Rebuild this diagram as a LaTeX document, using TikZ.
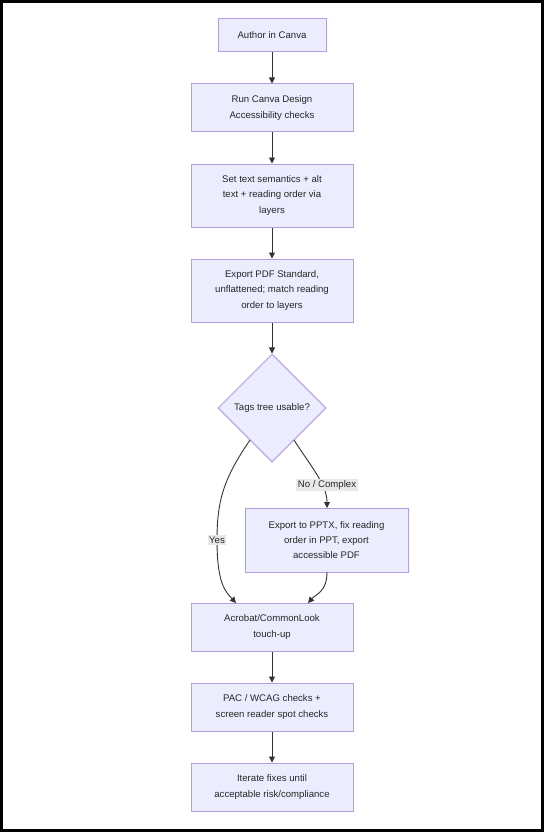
\documentclass[tikz,border=0pt]{standalone}
\usepackage{fontspec}
\setmainfont{Liberation Sans}
\usetikzlibrary{shapes.geometric,arrows.meta}
\definecolor{nodefill}{HTML}{ECECFF}
\definecolor{nodeline}{HTML}{B39DE8}
\definecolor{edgecol}{HTML}{333333}
\definecolor{lblfill}{HTML}{E8E8E8}
\begin{document}
\begin{tikzpicture}[x=1pt,y=-1pt,
  txt/.style={font=\fontsize{9.6}{15.3}\selectfont, text=black!85, align=center},
  box/.style={txt, draw=nodeline, fill=nodefill, line width=1pt, inner sep=0pt},
  dia/.style={txt, draw=nodeline, fill=nodefill, line width=1pt, diamond, inner sep=0pt, minimum width=108pt, minimum height=108pt},
  conn/.style={draw=edgecol, line width=0.9pt, -{Triangle[length=6pt,width=6pt]}},
  lbl/.style={txt, fill=lblfill, inner sep=1.5pt}]
\useasboundingbox (0,0) rectangle (544,832);
\draw[line width=3pt] (1.5,1.5) rectangle (542.5,830.5);
\node[box, minimum width=108pt, minimum height=33pt] (a) at (272,35.5) {Author in Canva};
\node[box, minimum width=162pt, minimum height=48pt] (b) at (272,108) {Run Canva Design\\Accessibility checks};
\node[box, minimum width=162pt, minimum height=63pt] (c) at (272,195.5) {Set text semantics + alt\\text + reading order via\\layers};
\node[box, minimum width=162pt, minimum height=63pt] (d) at (272,290.5) {Export PDF Standard,\\unflattened; match reading\\order to layers};
\node[dia] (e) at (272,408) {Tags tree usable?};
\node[box, minimum width=163pt, minimum height=64pt] (f) at (326.5,540) {Export to PPTX, fix reading\\order in PPT, export\\accessible PDF};
\node[box, minimum width=162pt, minimum height=48pt] (g) at (272,627) {Acrobat/CommonLook\\touch-up};
\node[box, minimum width=162pt, minimum height=48pt] (h) at (272,707) {PAC / WCAG checks +\\screen reader spot checks};
\node[box, minimum width=162pt, minimum height=48pt] (i) at (272,787) {Iterate fixes until\\acceptable risk/compliance};
\coordinate (eL) at (250,440);
\coordinate (eR) at (294,440);
\coordinate (yesmid) at (217,540);
\coordinate (gL) at (236,603);
\coordinate (gR) at (308,603);
\coordinate (fT) at (327,508);
\coordinate (fB) at (327,572);
\draw[conn] (a) -- (b);
\draw[conn] (b) -- (c);
\draw[conn] (c) -- (d);
\draw[conn] (d) -- (e);
\draw[conn] (eL) .. controls (224,478) and (217,500) .. (yesmid) .. controls (217,585) and (226,592) .. (gL);
\draw[conn] (eR) .. controls (312,468) and (327,485) .. (fT);
\draw[conn] (fB) .. controls (327,592) and (316,594) .. (gR);
\draw[conn] (g) -- (h);
\draw[conn] (h) -- (i);
\node[lbl] (yes) at (217,540) {Yes};
\node[lbl] (no) at (327,485) {No / Complex};
\end{tikzpicture}
\end{document}
